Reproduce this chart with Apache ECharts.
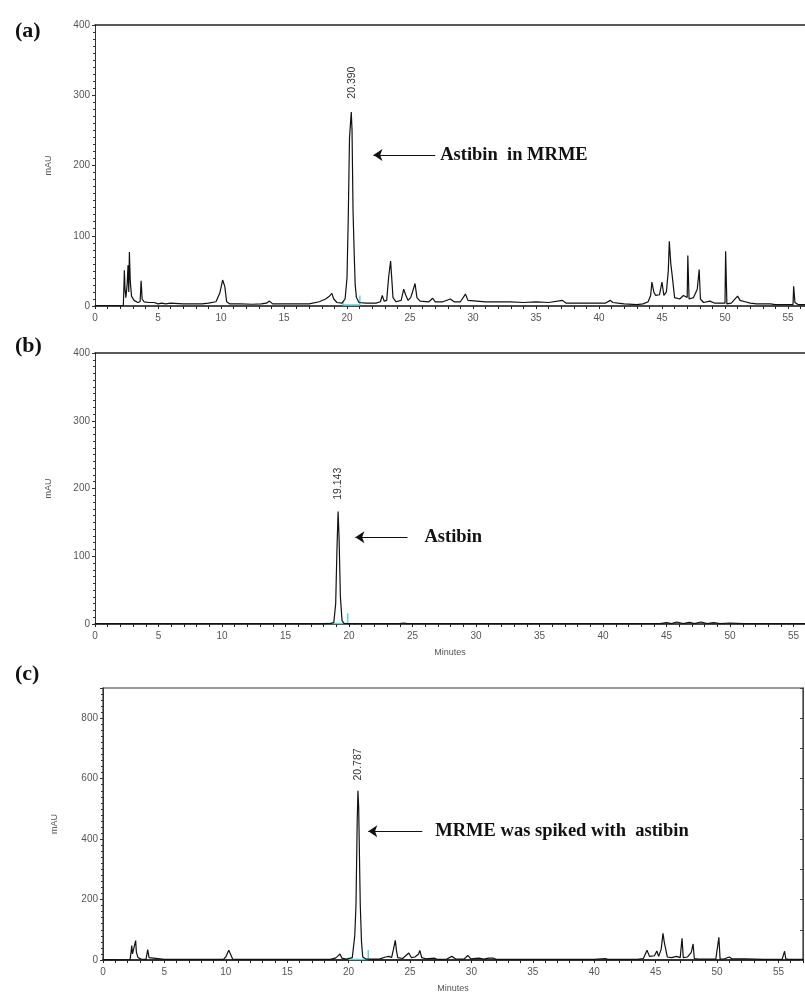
<!DOCTYPE html>
<html>
<head>
<meta charset="utf-8">
<script src="https://cdn.jsdelivr.net/npm/echarts@6/dist/echarts.min.js"></script>
<style>
html,body{margin:0;padding:0;background:#fff;}
#chart{width:805px;height:994px;}
</style>
</head>
<body>
<div id="chart"></div>
<script>
// ---------- Panel (a): MRME extract ----------
const timeA = [0,1,2,2.25,2.3,2.33,2.38,2.45,2.55,2.62,2.68,2.73,2.8,2.9,3.1,3.4,3.58,3.66,3.74,3.9,4.3,4.7,5.0,5.3,5.6,6,7,8,8.5,9,9.6,9.9,10.13,10.3,10.45,10.7,11.5,12.5,13.2,13.6,13.85,14.1,15,16,17,17.8,18.3,18.6,18.8,18.95,19.2,19.6,19.85,20.0,20.1,20.2,20.34,20.4,20.48,20.58,20.65,20.75,20.95,21.5,22.3,22.65,22.8,22.95,23.15,23.3,23.46,23.55,23.65,23.9,24.3,24.5,24.65,24.85,25.05,25.2,25.4,25.55,25.8,26.5,26.8,27.0,27.6,28.2,28.5,29.0,29.4,29.6,30.3,31,32,33,34,35,36,37.1,37.4,38,39,40.5,40.9,41.1,41.5,42,43,43.5,43.9,44.1,44.2,44.35,44.5,44.8,45.0,45.15,45.35,45.5,45.58,45.7,45.8,46.0,46.4,46.7,47.0,47.05,47.15,47.5,47.8,47.95,48.05,48.3,48.8,49.2,50.0,50.05,50.15,50.5,51.0,51.2,51.6,52,52.5,53,53.6,54,54.5,55.0,55.4,55.45,55.55,55.8,56.6];
const mAUA  = [0.5,0.5,0.5,1,30,51,25,12,30,58,20,77,35,14,8,5,6,36,10,6,5,5,3,4,3,4,3,3,3,4,6,18,37,28,6,3,3,2.5,3,4,7,3,3,3,3,6,10,14,18,10,5,4,10,40,125,240,276,250,135,70,30,12,5,4,4,6,15,7,8,40,64,40,12,6,8,24,16,8,12,20,32,12,7,6,11,6,6,10,6,6,17,8,7,6,6,6,5,6,5,8,4,4,4,4,8,5,4,3,2,3,6,15,34,20,15,16,34,15,20,50,92,60,45,12,10,15,12,72,10,12,24,52,10,5,7,4,4,78,3,4,14,8,6,4,3,3,3,2,2,2,2,28,5,2,2];
const cyanTimeA = [19.68,19.68,21.02,21.02];
const cyanValA  = [6,1.5,1.5,15];

// ---------- Panel (b): astibin standard ----------
const timeB = [0,3.5,3.6,8,12,16,18.5,18.8,18.95,19.05,19.14,19.22,19.32,19.45,19.6,20.5,24,24.3,24.6,30,38,44.5,45,45.4,45.8,46.3,46.8,47.2,47.7,48.2,48.7,49.2,50,51,56.1];
const mAUB  = [0.6,0.6,0,0.5,0.5,0.5,0.5,2,30,110,166,125,40,5,1,0.5,0.5,1.5,0.5,0.5,0.5,0.5,2,0.5,3,0.5,2.5,0.5,3,0.5,2,0.5,1.5,0.5,0.5];
const cyanTimeB = [18.1,19.9,19.9];
const cyanValB  = [0.8,0.8,16];

// ---------- Panel (c): MRME spiked with astibin ----------
const timeC = [0,0.8,1.2,2.2,2.3,2.34,2.4,2.55,2.66,2.72,2.85,3.1,3.5,3.64,3.75,3.9,5,9.8,10.0,10.24,10.4,10.55,11,18.5,18.9,19.1,19.3,19.45,19.8,20.3,20.5,20.6,20.7,20.76,20.82,20.9,20.95,21.05,21.15,21.4,22.5,23.0,23.3,23.5,23.65,23.8,23.9,24.0,24.4,24.9,25.1,25.4,25.7,25.8,25.95,26.3,27,27.2,28,28.4,28.7,29.4,29.7,29.95,30.6,31,31.4,31.8,32,35,40,40.9,41.1,43.5,44.0,44.3,44.5,44.9,45.1,45.25,45.45,45.6,45.7,45.8,45.95,46.3,46.7,47.0,47.15,47.25,47.6,47.9,48.05,48.15,48.5,49.9,50.15,50.25,50.6,51.0,51.2,52.2,52.3,53.8,55.3,55.5,55.6,55.8,57.05];
const mAUC  = [1,1.5,0.5,1,30,48,20,22,64,25,8,3,2,34,8,3,2,2,10,32,18,3,2,2,6,12,20,6,3,8,80,180,460,560,505,300,180,60,10,3,3,10,12,8,35,65,30,8,5,23,8,10,20,32,8,4,6,2,3,12,4,3,15,4,6,3,6,6,2,2,2,5,2,2,5,32,12,14,30,12,35,88,60,40,10,8,12,8,72,8,10,25,53,5,3,3,75,3,4,10,4,4,1,2,2,29,4,2,2];
const cyanTimeC = [19.97,21.6,21.6];
const cyanValC  = [1.5,1.5,33];

// ---------- Tick / axis settings ----------
const xTickStep = 5;

const zip = (t, v) => t.map((x, i) => [x, v[i]]);

const labelFont = {fontFamily:'Liberation Sans, Arial, sans-serif', fontSize:10, color:'#555'};
const serifBold = {fontFamily:'Liberation Serif, Times New Roman, serif', fontWeight:'bold', color:'#111'};

function xAxisCfg(grid, max, withName){
  return {
    type:'value', gridIndex:grid, min:0, max:max, interval:xTickStep,
    axisLine:{show:true, onZero:false, lineStyle:{color:'#111', width:1.5}},
    axisTick:{show:true, length:3, lineStyle:{color:'#222'}},
    minorTick:{show:true, splitNumber:5, length:3, lineStyle:{color:'#222'}},
    splitLine:{show:false},
    axisLabel:Object.assign({margin:7, showMaxLabel:false}, labelFont),
    name: withName ? 'Minutes' : '', nameLocation:'middle', nameGap:24,
    nameTextStyle:Object.assign({}, labelFont, {fontSize:9})
  };
}
function topAxisCfg(grid, max){
  return {
    type:'value', gridIndex:grid, position:'top', min:0, max:max,
    axisLine:{show:true, onZero:false, lineStyle:{color:'#222', width:1.5}},
    axisTick:{show:false}, axisLabel:{show:false}, splitLine:{show:false}
  };
}
function yAxisCfg(grid, max, interval, minorSplit, nameGap){
  return {
    type:'value', gridIndex:grid, min:0, max:max, interval:interval,
    axisLine:{show:true, lineStyle:{color:'#333', width:1}},
    axisTick:{show:true, length:3, lineStyle:{color:'#333'}},
    minorTick:{show:true, splitNumber:minorSplit, length:2, lineStyle:{color:'#333'}},
    splitLine:{show:false},
    axisLabel:Object.assign({margin:5, showMaxLabel: max === 400}, labelFont),
    name:'mAU', nameLocation:'middle', nameGap:nameGap,
    nameTextStyle:Object.assign({}, labelFont, {fontSize:9})
  };
}
function peakLabel(t, y, text){
  return {
    symbol:'circle', symbolSize:1, itemStyle:{color:'rgba(0,0,0,0)'},
    data:[{coord:[t, y], value:text}],
    label:{show:true, position:'inside', rotate:90, formatter:text,
      fontFamily:'Liberation Sans, Arial, sans-serif', fontSize:10.5, color:'#333'},
    silent:true, animation:false
  };
}
function arrow(t1, t2, y, text, gap){
  return {
    silent:true, animation:false, symbol:['arrow','none'], symbolSize:[9,9],
    lineStyle:{type:'solid', color:'#111', width:1.2},
    label:Object.assign({show:true, position:'end', distance:gap, formatter:text, fontSize:18.5}, serifBold),
    data:[[{coord:[t1, y]},{coord:[t2, y]}]]
  };
}
function trace(name, xi, yi, data, mp, ml){
  return {
    name:name, type:'line', xAxisIndex:xi, yAxisIndex:yi, data:data,
    showSymbol:false, symbol:'none', animation:false, silent:true,
    lineStyle:{color:'#111', width:1.2},
    markPoint:mp, markLine:ml
  };
}
function cyan(xi, yi, data){
  return {type:'line', xAxisIndex:xi, yAxisIndex:yi, data:data, symbol:'none', animation:false, silent:true,
    lineStyle:{color:'#5fd3d8', width:1.5}, z:3};
}

const chart = echarts.init(document.getElementById('chart'), null, {renderer:'canvas'});
const option = {
  backgroundColor:'#fff',
  title:[
    {text:'(a)', left:10, top:15, textStyle:Object.assign({fontSize:22}, serifBold)},
    {text:'(b)', left:10, top:330, textStyle:Object.assign({fontSize:22}, serifBold)},
    {text:'(c)', left:10, top:658, textStyle:Object.assign({fontSize:22}, serifBold)}
  ],
  grid:[
    {left:95, top:25, right:0, height:281},
    {left:95, top:353, right:0, height:271},
    {left:103, top:688, right:2, height:275, show:true, borderColor:'#333', borderWidth:1.2}
  ],
  xAxis:[
    xAxisCfg(0, 56.35, false),
    xAxisCfg(1, 55.9, true),
    xAxisCfg(2, 57.0, true),
    topAxisCfg(0, 56.35),
    topAxisCfg(1, 55.9)
  ],
  yAxis:[
    yAxisCfg(0, 400, 100, 10, 42),
    yAxisCfg(1, 400, 100, 10, 42),
    yAxisCfg(2, 900, 200, 10, 44),
    {type:'value', gridIndex:2, position:'right', min:0, max:900, interval:100,
      axisLine:{show:true, lineStyle:{color:'#444'}}, axisTick:{show:true, inside:true, length:3, lineStyle:{color:'#444'}},
      axisLabel:{show:false}, splitLine:{show:false}}
  ],
  series:[
    cyan(0, 0, zip(cyanTimeA, cyanValA)),
    trace('a', 0, 0, zip(timeA, mAUA), peakLabel(20.39, 318, '20.390'), arrow(22.1, 27.0, 215, 'Astibin  in MRME', 5)),
    cyan(1, 1, zip(cyanTimeB, cyanValB)),
    trace('b', 1, 1, zip(timeB, mAUB), peakLabel(19.143, 207, '19.143'), arrow(20.5, 24.6, 128, 'Astibin', 17)),
    cyan(2, 2, zip(cyanTimeC, cyanValC)),
    trace('c', 2, 2, zip(timeC, mAUC), peakLabel(20.787, 647, '20.787'), arrow(21.6, 26.0, 426, 'MRME was spiked with  astibin', 13))
  ]
};
chart.setOption(option);
</script>
</body>
</html>
